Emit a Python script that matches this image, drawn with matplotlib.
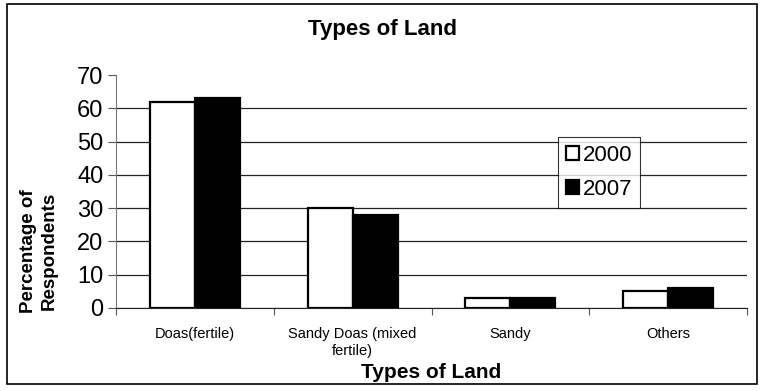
import numpy as np
import matplotlib.pyplot as plt
from matplotlib.patches import Rectangle

plt.rcParams['font.family'] = ['Liberation Sans', 'DejaVu Sans']

categories = ['Doas(fertile)', 'Sandy Doas (mixed\nfertile)', 'Sandy', 'Others']
years = ['2000', '2007']
values_2000 = [62, 30, 3, 5]
values_2007 = [63, 28, 3, 6]
y_ticks = [0, 10, 20, 30, 40, 50, 60, 70]

W, H = 764, 391
fig = plt.figure(figsize=(W / 100, H / 100), dpi=100)
ax = fig.add_axes([116 / W, 1 - 308 / H, (747 - 116) / W, (308 - 75) / H])

x = np.arange(len(categories))
w = 1 / 3.5
ax.bar(x - w / 2, values_2000, w, color='white', edgecolor='black', linewidth=1.6, label=years[0], zorder=3)
ax.bar(x + w / 2, values_2007, w, color='black', edgecolor='black', linewidth=1.6, label=years[1], zorder=3)

ax.set_xlim(-0.5, len(categories) - 0.5)
ax.set_ylim(0, 70)
ax.set_yticks(y_ticks)
ax.set_yticklabels([str(t) for t in y_ticks], fontsize=17)
ax.yaxis.grid(True, color='#222222', linewidth=0.9, zorder=0)
ax.get_ygridlines()[-1].set_visible(False)

# category labels between boundary ticks
ax.set_xticks(np.arange(len(categories) + 1) - 0.5)
ax.set_xticklabels([])
ax.set_xticks(x, minor=True)
ax.set_xticklabels(categories, minor=True, fontsize=10.5, linespacing=1.25)
ax.tick_params(axis='x', which='minor', length=0, pad=14)
ax.tick_params(axis='x', which='major', length=5, direction='out', color='#555555')
ax.tick_params(axis='y', length=6, direction='out', color='#555555', pad=3)

for s in ['top', 'right']:
    ax.spines[s].set_visible(False)
ax.spines['left'].set_color('#777777')
ax.spines['bottom'].set_color('#222222')

ax.set_xlabel('Types of Land', fontsize=15, fontweight='bold')
ax.xaxis.set_label_coords(0.5, -(372 - 308) / 233)
ax.xaxis.label.set_va('center')
ax.set_ylabel('Percentage of\nRespondents', fontsize=13.5, fontweight='bold', linespacing=1.3)
ax.yaxis.set_label_coords((39 - 116) / 631, (308 - 251) / 233)
ax.yaxis.label.set_va('center')

fig.text(0.5, 1 - 30 / H, 'Types of Land', ha='center', va='center', fontsize=16, fontweight='bold')

leg = ax.legend(loc='upper left', bbox_to_anchor=((558 - 116) / 631, (308 - 137) / 233),
                frameon=True, fancybox=False, edgecolor='black', fontsize=16,
                handlelength=0.6, handleheight=0.6, handletextpad=0.15, borderpad=0.35,
                labelspacing=0.6, borderaxespad=0)
leg.get_frame().set_linewidth(0.8)

fig.patches.append(Rectangle((7 / W, 1 - 384 / H), 750 / W, 380 / H,
                             transform=fig.transFigure, fill=False, edgecolor='black', linewidth=1.2))

fig.savefig('out.png', dpi=100)
